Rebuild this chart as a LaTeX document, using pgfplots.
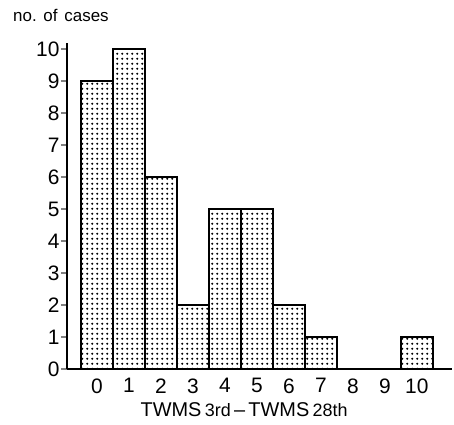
\documentclass[border=0pt]{standalone}
\usepackage{fontspec}
\setmainfont{Liberation Sans}
\usepackage{pgfplots}
\pgfplotsset{compat=1.18}
\usetikzlibrary{patterns.meta}
\begin{document}
\begin{tikzpicture}
\begin{axis}[
    scale only axis,
    width=385bp, height=326.4bp,
    xmin=-0.94, xmax=11.1,
    ymin=0, ymax=10.2,
    axis lines*=left,
    axis line style={line width=1.6bp},
    xtick={0,...,10}, ytick={0,...,10},
    tick align=outside,
    major tick length=6bp,
    x tick style={draw=none},
    y tick style={line width=1.4bp},
    tick label style={font=\fontsize{21}{24}\selectfont},
    /pgf/number format/assume math mode=true,
    yticklabel style={xshift=2bp},
    ybar, bar width=1,
    xlabel={TWMS\,{\fontsize{18}{20}\selectfont 3rd}\,--\,TWMS\,{\fontsize{18}{20}\selectfont 28th}},
    xlabel style={font=\fontsize{20}{24}\selectfont, at={(axis description cs:0.46,0)}, anchor=center, yshift=-41bp},
    clip=false,
]
\addplot[draw=black, line width=1.6bp, pattern={Dots[distance=5.2bp, radius=1.2bp]}, pattern color=black]
    coordinates {(0,9) (1,10) (2,6) (3,2) (4,5) (5,5) (6,2) (7,1) (8,0) (9,0) (10,1)};
\node[anchor=west, inner sep=0pt, font=\fontsize{17}{19}\selectfont, xshift=-54bp, yshift=27.6bp] at (rel axis cs:0,1) {no.\hspace{0.4em}of\hspace{0.4em}cases};
% frame of the reference picture
\path (rel axis cs:0,0) ++(-67bp,-56bp) rectangle ++(454bp,425bp);
\end{axis}
\end{tikzpicture}
\end{document}
